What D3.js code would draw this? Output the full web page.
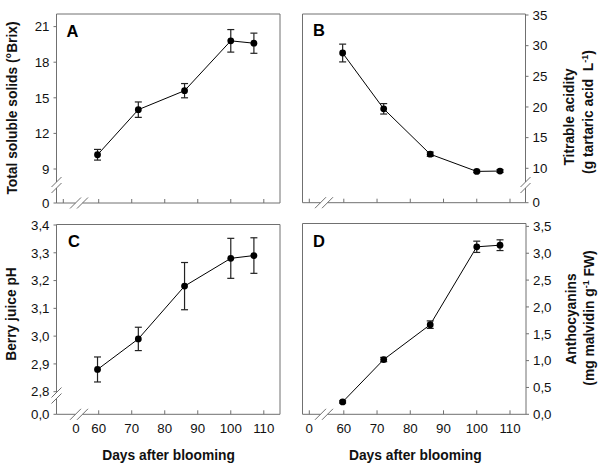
<!DOCTYPE html>
<html><head><meta charset="utf-8">
<script src="https://cdn.jsdelivr.net/npm/d3@7"></script>
<style>
html,body{margin:0;padding:0;background:#fff;}
text{font-family:"Liberation Sans",Arial,sans-serif;}
</style></head>
<body>
<svg id="chart" width="600" height="466"></svg>
<script>
// ---------- data ----------
const days = [58, 72, 86, 100, 107];
const xTicks = [0, 60, 70, 80, 90, 100, 110];

const solids = [10.2, 14.0, 15.6, 19.8, 19.6];
const solidsErr = [0.45, 0.65, 0.6, 0.95, 0.85];
const solidsTicks = [0, 9, 12, 15, 18, 21];

const acidity = [28.8, 19.7, 12.3, 9.1, 9.2];
const acidityErr = [1.45, 0.85, 0.35, 0.35, 0.4];
const acidityTicks = [0, 10, 15, 20, 25, 30, 35];

const ph = [2.88, 2.99, 3.18, 3.28, 3.29];
const phErr = [0.045, 0.042, 0.085, 0.072, 0.064];
const phTicks = [0, 2.8, 2.9, 3.0, 3.1, 3.2, 3.3, 3.4];

const antho = [0.23, 1.02, 1.67, 3.12, 3.15];
const anthoErr = [0.02, 0.04, 0.07, 0.105, 0.1];
const anthoTicks = [0, 0.5, 1.0, 1.5, 2.0, 2.5, 3.0, 3.5];

const svg = d3.select("#chart");
const axisCol = "#707070";
const fmtComma = d => d.toFixed(1).replace(".", ",");

function panel(o) {
  const g = svg.append("g");
  const {left, right, top, bottom, x, y} = o;
  const yAxisX = o.side === "left" ? left : right;
  const farX = o.side === "left" ? right : left;
  g.append("line").attr("x1", left).attr("x2", right).attr("y1", top).attr("y2", top)
    .attr("stroke", axisCol).attr("stroke-width", 1);
  g.append("line").attr("x1", farX).attr("x2", farX).attr("y1", top).attr("y2", bottom)
    .attr("stroke", axisCol).attr("stroke-width", 1);

  if (o.yBreak) {
    const yb = o.yBreak;
    g.append("line").attr("x1", yAxisX).attr("x2", yAxisX).attr("y1", top).attr("y2", yb - 3)
      .attr("stroke", axisCol);
    g.append("line").attr("x1", yAxisX).attr("x2", yAxisX).attr("y1", yb + 3).attr("y2", bottom)
      .attr("stroke", axisCol);
    [yb - 3, yb + 3].forEach(v => {
      g.append("line").attr("x1", yAxisX - 5).attr("y1", v + 5).attr("x2", yAxisX + 5).attr("y2", v - 5)
        .attr("stroke", axisCol);
    });
  } else {
    g.append("line").attr("x1", yAxisX).attr("x2", yAxisX).attr("y1", top).attr("y2", bottom)
      .attr("stroke", axisCol);
  }
  const xb = o.xBreak;
  g.append("line").attr("x1", left).attr("x2", xb - 3.5).attr("y1", bottom).attr("y2", bottom)
    .attr("stroke", axisCol);
  g.append("line").attr("x1", xb + 3.5).attr("x2", right).attr("y1", bottom).attr("y2", bottom)
    .attr("stroke", axisCol);
  [xb - 3.5, xb + 3.5].forEach(v => {
    g.append("line").attr("x1", v - 5.5).attr("y1", bottom + 5.5).attr("x2", v + 5.5).attr("y2", bottom - 5.5)
      .attr("stroke", axisCol);
  });

  xTicks.forEach(t => {
    if (t === 0 && o.noZeroTick) return;
    g.append("line").attr("x1", x(t)).attr("x2", x(t)).attr("y1", bottom).attr("y2", bottom - 4)
      .attr("stroke", axisCol);
  });
  if (o.xLabels) {
    xTicks.forEach(t => {
      const xp = (t === 0 && o.zeroLabelX) ? o.zeroLabelX : x(t);
      g.append("text").attr("x", xp).attr("y", bottom + 19).attr("text-anchor", "middle")
        .attr("font-size", 13.3).attr("fill", "#111").text(t);
    });
    g.append("text").attr("x", (x(60) + x(110)) / 2 + o.titleShift).attr("y", 460).attr("text-anchor", "middle")
      .attr("font-size", 13.8).attr("font-weight", "bold").attr("fill", "#111").text("Days after blooming");
  }

  const dir = o.side === "left" ? -1 : 1;
  o.yTicks.forEach(t => {
    g.append("line").attr("x1", yAxisX).attr("x2", yAxisX + dir * 3).attr("y1", y(t)).attr("y2", y(t))
      .attr("stroke", axisCol);
    g.append("text").attr("x", yAxisX + dir * 7).attr("y", y(t)).attr("dy", "0.36em")
      .attr("text-anchor", o.side === "left" ? "end" : "start")
      .attr("font-size", 13.3).attr("fill", "#111").text(o.fmt(t));
  });

  g.append("text").attr("x", o.letterX).attr("y", o.letterY).attr("font-size", 16.5)
    .attr("font-weight", "bold").attr("fill", "#000").text(o.letter);

  const pts = days.map((d, i) => [x(d), y(o.vals[i])]);
  g.append("path").attr("d", d3.line()(pts)).attr("fill", "none").attr("stroke", "#000").attr("stroke-width", 1);
  days.forEach((d, i) => {
    const xp = x(d), y1 = y(o.vals[i] + o.err[i]), y2 = y(o.vals[i] - o.err[i]);
    const eg = g.append("g").attr("stroke", "#222").attr("stroke-width", 1.2);
    eg.append("line").attr("x1", xp).attr("x2", xp).attr("y1", y1).attr("y2", y2);
    eg.append("line").attr("x1", xp - 3.5).attr("x2", xp + 3.5).attr("y1", y1).attr("y2", y1);
    eg.append("line").attr("x1", xp - 3.5).attr("x2", xp + 3.5).attr("y1", y2).attr("y2", y2);
  });
  g.selectAll("circle.pt").data(pts).enter().append("circle").attr("class", "pt")
    .attr("cx", p => p[0]).attr("cy", p => p[1]).attr("r", 3.4).attr("fill", "#000");
  return g;
}

const xL = d3.scaleLinear().domain([0, 60, 110]).range([63.3, 98.7, 263.8]);
const xR = d3.scaleLinear().domain([0, 60, 110]).range([309.3, 343.8, 510]);

panel({left: 56.5, right: 280, top: 14, bottom: 203, side: "left",
  x: xL, y: d3.scaleLinear().domain([0, 9, 21]).range([203, 169, 26.6]),
  yTicks: solidsTicks, fmt: d => d, vals: solids, err: solidsErr,
  yBreak: 185, xBreak: 79, letter: "A", letterX: 66.5, letterY: 36.7});
panel({left: 302.5, right: 525.5, top: 14, bottom: 202.7, side: "right",
  x: xR, y: d3.scaleLinear().domain([0, 10, 35]).range([202.7, 168.3, 15]),
  yTicks: acidityTicks, fmt: d => d, vals: acidity, err: acidityErr,
  yBreak: 185, xBreak: 324, letter: "B", letterX: 313, letterY: 35.7});
panel({left: 56.5, right: 280, top: 224.5, bottom: 414.3, side: "left",
  x: xL, y: d3.scaleLinear().domain([0, 2.8, 3.4]).range([414.3, 391.7, 225]),
  yTicks: phTicks, fmt: fmtComma, vals: ph, err: phErr,
  yBreak: 395.5, xBreak: 79, letter: "C", letterX: 68, letterY: 246.7,
  xLabels: true, noZeroTick: true, zeroLabelX: 76, titleShift: -12.7});
panel({left: 302.5, right: 526, top: 223.5, bottom: 414.3, side: "right",
  x: xR, y: d3.scaleLinear().domain([0, 3.5]).range([414.3, 226.4]),
  yTicks: anthoTicks, fmt: fmtComma, vals: antho, err: anthoErr,
  yBreak: null, xBreak: 324, letter: "D", letterX: 313, letterY: 246.7,
  xLabels: true, titleShift: -11.6});

function title(x, y, lines) {
  const t = svg.append("text").attr("transform", `translate(${x},${y}) rotate(-90)`)
    .attr("text-anchor", "middle").attr("font-size", 13.8).attr("font-weight", "bold").attr("fill", "#111")
    .style("white-space", "pre");
  lines.forEach(part => {
    if (part.sup) {
      t.append("tspan").attr("font-size", 9).attr("dy", -5).text(part.sup);
      t.append("tspan").attr("dy", 5).text(part.after || "");
    } else t.append("tspan").text(part.text);
  });
}
title(17, 108, [{text: "Total soluble solids (°Brix)"}]);
title(16, 314, [{text: "Berry juice pH"}]);
title(573.5, 117, [{text: "Titrable acidity"}]);
title(593, 112, [{text: "(g tartaric acid  L"}, {sup: "-1", after: ")"}]);
title(575.5, 319, [{text: "Anthocyanins"}]);
title(594, 318, [{text: "(mg malvidin g"}, {sup: "-1", after: " FW)"}]);
</script>
</body></html>
